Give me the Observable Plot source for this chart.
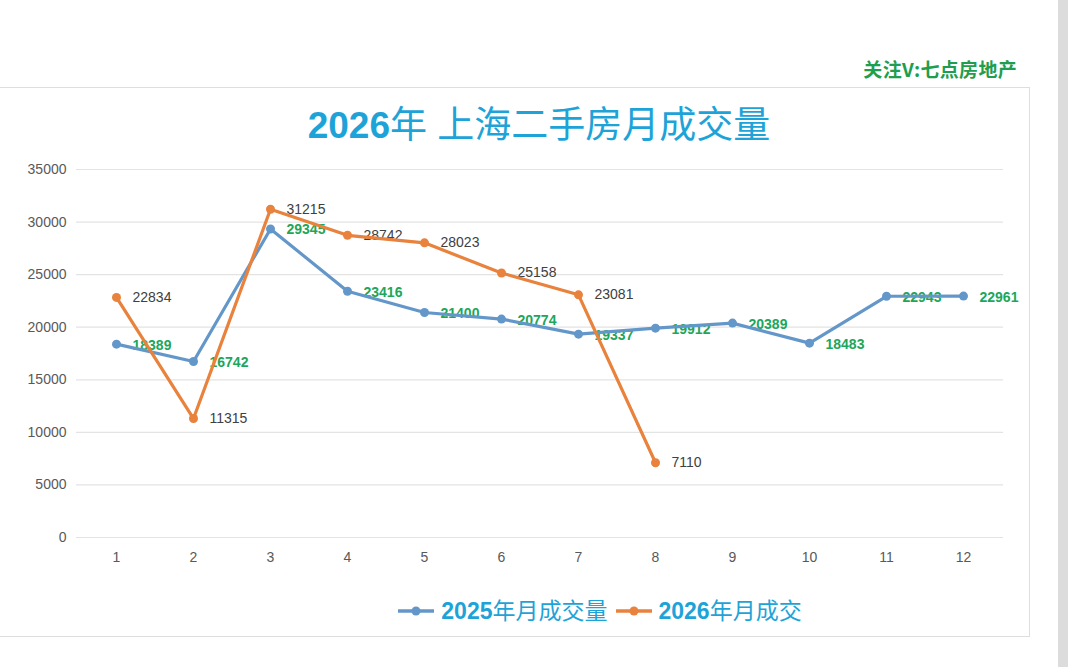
<!DOCTYPE html>
<html>
<head>
<meta charset="utf-8">
<script src="https://cdn.jsdelivr.net/npm/d3@7"></script>
<script src="https://cdn.jsdelivr.net/npm/@observablehq/plot@0.6"></script>
<style>
  html, body { margin: 0; padding: 0; background: #fff; width: 1080px; height: 667px; overflow: hidden; position: relative; font-family: "Liberation Sans", "Noto Sans CJK SC", sans-serif; }
  #watermark { position: absolute; right: 63px; top: 55px; font: bold 19px "Noto Sans CJK SC", sans-serif; color: #1e9e4e; letter-spacing: 0.3px; }
  #card { position: absolute; left: -3px; top: 87px; width: 1031px; height: 548px; border: 1.5px solid #dedede; background: #fff; }
  #scroll { position: absolute; left: 1058px; top: 0; width: 10px; height: 667px; background: #dcdcdc; }
  #title { position: absolute; left: 0; width: 1078px; top: 101px; text-align: center; font: 37px "Liberation Sans", "Noto Sans CJK SC", sans-serif; color: #1ea3d8; line-height: 50px; }
  .num { font-weight: bold; }
  #chart { position: absolute; left: 0; top: 150px; }
  #legend { position: absolute; left: 0; width: 1200px; top: 594px; display: flex; gap: 8px; justify-content: center; font: 23px "Liberation Sans", "Noto Sans CJK SC", sans-serif; color: #1ea3d8; line-height: 34px; }
  #legend .item { display: flex; align-items: center; gap: 7px; }
</style>
</head>
<body>
<div id="watermark">关注V:七点房地产</div>
<div id="card"></div>
<div id="scroll"></div>
<div id="title"><span class="num">2026</span>年 上海二手房月成交量</div>
<div id="chart"></div>
<div id="legend"></div>
<script>
const months = [1,2,3,4,5,6,7,8,9,10,11,12];
const sales2025 = [18389, 16742, 29345, 23416, 21400, 20774, 19337, 19912, 20389, 18483, 22943, 22961];
const sales2026 = [22834, 11315, 31215, 28742, 28023, 25158, 23081, 7110];
const seriesYears = ["2025", "2026"];
const seriesSuffix = ["年月成交量", "年月成交"];
const seriesColors = ["#6497c9", "#e8823c"];
const yTicks = [0, 5000, 10000, 15000, 20000, 25000, 30000, 35000];

const d25 = sales2025.map((v, i) => ({month: months[i], value: v}));
const d26 = sales2026.map((v, i) => ({month: months[i], value: v}));

const chart = Plot.plot({
  width: 1030,
  height: 430,
  marginLeft: 76,
  marginRight: 27,
  marginTop: 19,
  marginBottom: 43,
  style: {fontFamily: "'Liberation Sans', Arial, sans-serif", fontSize: "14px", color: "#595959", background: "transparent"},
  x: {type: "point", domain: months, padding: 0.5, label: null, tickSize: 0, tickPadding: 15},
  y: {domain: [0, 35000], ticks: yTicks, label: null, tickSize: 0, tickPadding: 10, grid: false},
  marks: [
    Plot.ruleY(yTicks, {stroke: "#e3e3e3", strokeWidth: 1.2}),
    Plot.axisX({tickSize: 0, tickPadding: 15, fontSize: 14, fill: "#595959"}),
    Plot.axisY({ticks: yTicks, tickSize: 0, tickPadding: 10, tickFormat: d => String(d), fontSize: 14, fill: "#595959"}),
    Plot.text(d25, {x: "month", y: "value", text: d => String(d.value), dx: 16, dy: 1, textAnchor: "start", fill: "#20a65a", fontWeight: "bold", fontSize: 14}),
    Plot.text(d26, {x: "month", y: "value", text: d => String(d.value), dx: 16, dy: 0, textAnchor: "start", fill: "#404040", fontSize: 14}),
    Plot.line(d25, {x: "month", y: "value", stroke: seriesColors[0], strokeWidth: 3.2}),
    Plot.dot(d25, {x: "month", y: "value", r: 4.5, fill: seriesColors[0]}),
    Plot.line(d26, {x: "month", y: "value", stroke: seriesColors[1], strokeWidth: 3.2}),
    Plot.dot(d26, {x: "month", y: "value", r: 4.5, fill: seriesColors[1]})
  ]
});
document.getElementById("chart").appendChild(chart);

const legend = document.getElementById("legend");
seriesYears.forEach((yr, i) => {
  const item = document.createElement("div");
  item.className = "item";
  item.innerHTML = `<svg width="36" height="12"><line x1="0" y1="6" x2="36" y2="6" stroke="${seriesColors[i]}" stroke-width="3.5"/><circle cx="18" cy="6" r="4.5" fill="${seriesColors[i]}"/></svg><span><span class="num">${yr}</span>${seriesSuffix[i]}</span>`;
  legend.appendChild(item);
});
</script>
</body>
</html>
